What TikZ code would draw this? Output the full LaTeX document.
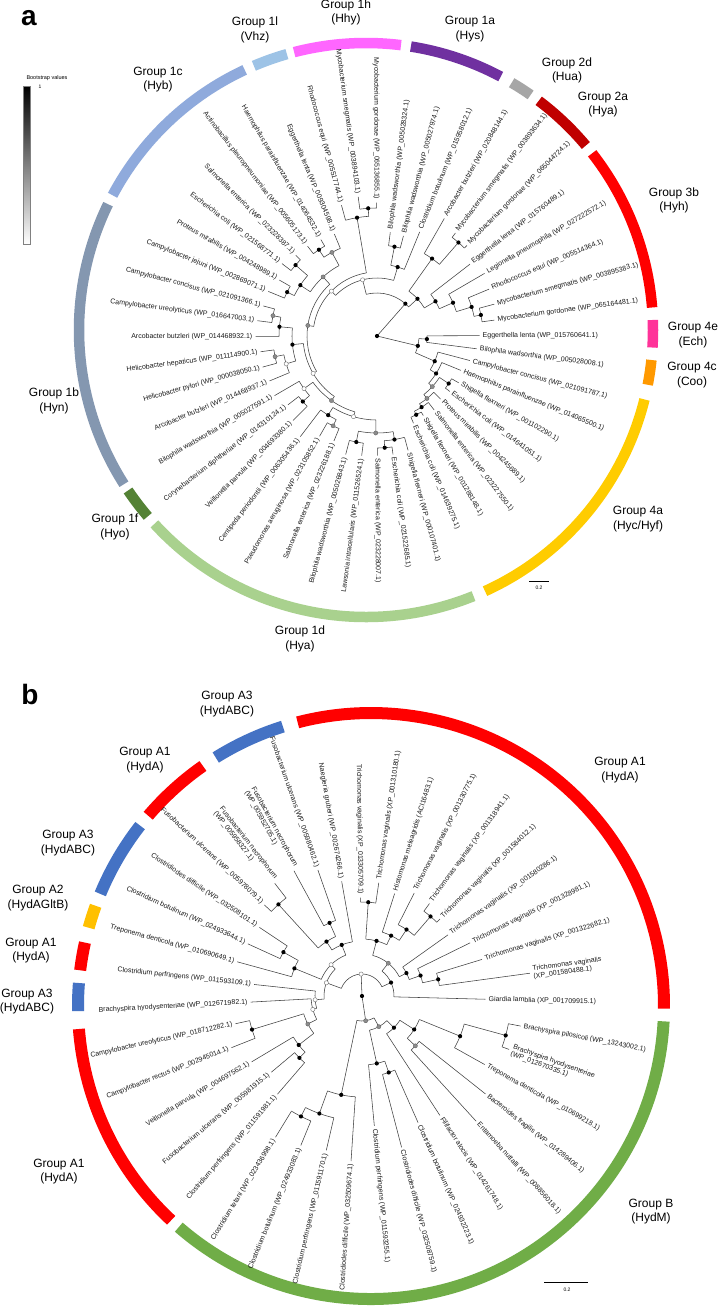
\documentclass[tikz,border=0pt]{standalone}
\usepackage{fontspec}
\setmainfont{Liberation Sans}
\definecolor{c1c}{HTML}{8FAADC}
\definecolor{c1l}{HTML}{9DC3E6}
\definecolor{c1h}{HTML}{FF66FF}
\definecolor{c1a}{HTML}{7030A0}
\definecolor{c2d}{HTML}{A6A6A6}
\definecolor{c2a}{HTML}{C00000}
\definecolor{c3b}{HTML}{FF0000}
\definecolor{c4e}{HTML}{FF3399}
\definecolor{c4c}{HTML}{FF9900}
\definecolor{c4a}{HTML}{FFCC00}
\definecolor{c1d}{HTML}{A9D18E}
\definecolor{c1f}{HTML}{548235}
\definecolor{c1b}{HTML}{8497B0}
\definecolor{cA1}{HTML}{FF0000}
\definecolor{cA3}{HTML}{4472C4}
\definecolor{cA2}{HTML}{FFC000}
\definecolor{cB}{HTML}{70AD47}
% tree helpers
\newcommand\TL[3]{%
  \pgfmathsetmacro\tA{\angf{#1}}%
  \pgfmathsetmacro\tR{#3-2.5}%
  \draw[tl] (\tA:#2pt) -- (\tA:\tR pt);}
\newcommand\TN[6]{%
  \pgfmathsetmacro\tA{\angf{#1}}%
  \pgfmathsetmacro\tS{\angf{#2}}%
  \pgfmathsetmacro\tE{\angf{#3}}%
  \draw[tl] (\tA:#4pt) -- (\tA:#5pt);%
  \draw[tl] (\tS:#5pt) arc[start angle=\tS, end angle=\tE, radius=#5pt];%
  \path[#6] (\tA:#5pt) circle[radius=2.1pt];}
\newcommand\TX[3]{%
  \pgfmathsetmacro\tA{mod(\angf{#1}+720,360)}%
  \pgfmathtruncatemacro\tLft{and(\tA>90,\tA<270)}%
  \ifnum\tLft=1
    \node[lab, anchor=east, rotate=\tA-180, name=\pfx#1] at (\tA:#2pt) {#3};%
  \else
    \node[lab, anchor=west, rotate=\tA, name=\pfx#1] at (\tA:#2pt) {#3};%
  \fi}
\newcommand\RA[4]{%
  \draw[line width=\rw, draw=#3] (#1:#4pt) arc[start angle=#1, end angle=#2, radius=#4pt];}
\begin{document}
\begin{tikzpicture}[x=1pt,y=1pt,
  tl/.style={line width=0.55pt, draw=black!75},
  lab/.style={font=\fontsize{7}{7.6}\selectfont, inner sep=0.5pt, align=left, text=black!90},
  grp/.style={font=\fontsize{12}{14.5}\selectfont, align=center, inner sep=0pt},
  bd/.style={fill=black},
  gd/.style={fill=black!45, draw=black!65, line width=0.3pt},
  wd/.style={fill=white, draw=black!55, line width=0.4pt}]
\fill[white] (0,0) rectangle (719,-1312);
\useasboundingbox (0,0) rectangle (719,-1312);

% ================= PANEL A =================
\node[font=\fontsize{28}{30}\selectfont\bfseries, inner sep=0] (pa) at (29,-18) {a};
% legend
\shade[top color=black, bottom color=white] (23,-86) rectangle (30,-244);
\draw[black!50, line width=0.4pt] (23,-86) rectangle (30,-244);
\node[font=\fontsize{5.5}{6}\selectfont, inner sep=0] (bsv) at (47,-78) {Bootstrap values};
\node[font=\fontsize{5}{6}\selectfont, inner sep=0] (bs1) at (40,-87) {1};

% ring
\def\rw{10.5pt}
\begin{scope}[shift={(366,-330)}]
\RA{115}{152}{c1c}{287}
\RA{106}{113}{c1l}{287}
\RA{83}{104.5}{c1h}{287}
\RA{62}{81}{c1a}{287}
\RA{55}{59.5}{c2d}{287}
\RA{40}{53}{c2a}{287}
\RA{4.5}{38}{c3b}{287}
\RA{-3.5}{2}{c4e}{287}
\RA{-11}{-6}{c4c}{287}
\RA{-65.5}{-14}{c4a}{287}
\RA{222.5}{292}{c1d}{287}
\RA{214}{220.5}{c1f}{287}
\RA{154}{212.5}{c1b}{287}
\end{scope}

% group labels a
\node[grp] (g1h) at (346,-12.5) {Group 1h\\(Hhy)};
\node[grp] (g1l) at (255,-30) {Group 1l\\(Vhz)};
\node[grp] (g1a) at (470,-29) {Group 1a\\(Hys)};
\node[grp] (g2d) at (567,-70.5) {Group 2d\\(Hua)};
\node[grp] (g2a) at (603,-104.5) {Group 2a\\(Hya)};
\node[grp] (g1c) at (158,-79.5) {Group 1c\\(Hyb)};
\node[grp] (g3b) at (674,-200.5) {Group 3b\\(Hyh)};
\node[grp] (g4e) at (693,-335) {Group 4e\\(Ech)};
\node[grp] (g4c) at (692,-375) {Group 4c\\(Coo)};
\node[grp] (g4a) at (638,-519) {Group 4a\\(Hyc/Hyf)};
\node[grp] (g1d) at (300,-639) {Group 1d\\(Hya)};
\node[grp] (g1f) at (115,-527) {Group 1f\\(Hyo)};
\node[grp] (g1b) at (54,-401) {Group 1b\\(Hyn)};

% scale bar a
\draw[line width=0.5pt] (529,-581) -- (549,-581);
\node[font=\fontsize{5}{6}\selectfont, inner sep=0] (sba) at (539,-588) {0.2};

% tree a
\def\angf#1{7.7+7.5*((#1)-1)}
\def\pfx{la}
\begin{scope}[shift={(377,-336)}]
\TN{6.47}{5.65625}{13.8926}{0}{43}{bd}
\TN{5.65625}{4.0625}{7.25}{43}{55}{bd}
\TN{4.0625}{3.125}{5}{55}{68}{bd}
\TN{3.125}{2.25}{4}{68}{83}{bd}
\TN{2.25}{1.5}{3}{83}{99}{bd}
\TN{1.5}{1}{2}{99}{106}{bd}
\TL{1}{106}{121} \TL{2}{106}{124} \TL{3}{99}{124} \TL{4}{83}{127} \TL{5}{68}{120}
\TN{7.25}{6.5}{8}{55}{95}{bd}
\TN{6.5}{6}{7}{95}{124}{bd}
\TL{6}{124}{130} \TL{7}{124}{132} \TL{8}{95}{138}
\TN{13.8926}{9.75}{18.035}{43}{58}{wd}
\TN{9.75}{9}{10.5}{58}{72}{bd}
\TL{9}{72}{115}
\TN{10.5}{10}{11}{72}{91}{bd}
\TL{10}{91}{106} \TL{11}{91}{107}
\TN{18.035}{13.25}{22.8203}{58}{64}{wd}
\TN{13.25}{12.5}{14}{64}{120}{bd}
\TN{12.5}{12}{13}{120}{128}{bd}
\TL{12}{128}{136} \TL{13}{128}{143} \TL{14}{120}{138}
\TN{22.8203}{17.625}{28.015625}{64}{70}{gd}
\TN{17.625}{15.75}{19.5}{70}{80}{gd}
\TN{15.75}{15}{16.5}{80}{95}{gd}
\TL{15}{95}{113}
\TN{16.5}{16}{17}{95}{104}{bd}
\TL{16}{104}{114} \TL{17}{104}{116}
\TN{19.5}{18.5}{20.5}{80}{92}{bd}
\TN{18.5}{18}{19}{92}{108}{bd}
\TL{18}{108}{117} \TL{19}{108}{122}
\TN{20.5}{20}{21}{92}{100}{bd}
\TL{20}{100}{115} \TL{21}{100}{120}
\TN{28.015625}{24.75}{31.28125}{70}{74}{wd}
\TN{24.75}{23.25}{26.25}{74}{85}{bd}
\TN{23.25}{22.5}{24}{85}{98}{bd}
\TN{22.5}{22}{23}{98}{106}{gd}
\TL{22}{106}{120} \TL{23}{106}{123} \TL{24}{98}{124}
\TN{26.25}{25.5}{27}{85}{95}{wd}
\TN{25.5}{25}{26}{95}{104}{gd}
\TL{25}{104}{120} \TL{26}{104}{121} \TL{27}{95}{119}
\TN{31.28125}{28.75}{33.8125}{74}{79}{gd}
\TN{28.75}{28}{29.5}{79}{90}{wd}
\TL{28}{90}{121}
\TN{29.5}{29}{30}{90}{99}{bd}
\TL{29}{99}{115} \TL{30}{99}{121.6}
\TN{33.8125}{31.75}{35.875}{79}{84}{wd}
\TN{31.75}{31}{32.5}{84}{93}{bd}
\TL{31}{93}{129}
\TN{32.5}{32}{33}{93}{100}{gd}
\TL{32}{100}{118} \TL{33}{100}{116}
\TN{35.875}{34.5}{37.25}{84}{97}{gd}
\TN{34.5}{34}{35}{97}{108}{bd}
\TL{34}{108}{125} \TL{35}{108}{123}
\TN{37.25}{36.5}{38}{97}{105}{bd}
\TN{36.5}{36}{37}{105}{112}{bd}
\TL{36}{112}{122} \TL{37}{112}{122} \TL{38}{105}{121}
\TN{46.164}{44.828}{47.5}{0}{42}{bd}
\TN{47.5}{47}{48}{42}{50}{bd}
\TL{47}{50}{103} \TL{48}{50}{105}
\TN{44.828}{43.65625}{46}{42}{63}{bd}
\TL{46}{63}{98.5}
\TN{43.65625}{42.3125}{45}{63}{70}{bd}
\TL{45}{70}{93}
\TN{42.3125}{41.125}{43.5}{70}{75}{gd}
\TN{43.5}{43}{44}{75}{86}{bd}
\TL{43}{86}{94} \TL{44}{86}{96.6}
\TN{41.125}{40.25}{42}{75}{80}{gd}
\TL{42}{80}{92}
\TN{40.25}{39.5}{41}{80}{84}{bd}
\TL{41}{84}{96}
\TN{39.5}{39}{40}{84}{88}{bd}
\TL{39}{88}{97} \TL{40}{88}{94.5}
\fill[black] (0,0) circle[radius=2.1pt];
% labels a
\TX{1}{121}{Mycobacterium gordonae (WP\_065164481.1)}
\TX{2}{124}{Mycobacterium smegmatis (WP\_003895383.1)}
\TX{3}{124}{Rhodococcus equi (WP\_005514364.1)}
\TX{4}{127}{Legionella pneumophila (WP\_027222572.1)}
\TX{5}{120}{Eggerthella lenta (WP\_015760489.1)}
\TX{6}{130}{Mycobacterium gordonae (WP\_065044724.1)}
\TX{7}{132}{Mycobacterium smegmatis (WP\_003893634.1)}
\TX{8}{138}{Arcobacter butzleri (WP\_020848144.1)}
\TX{9}{115}{Clostridium botulinum (WP\_015958012.1)}
\TX{10}{106}{Bilophila wadsworthia (WP\_005027974.1)}
\TX{11}{107}{Bilophila wadsworthia (WP\_005028324.1)}
\TX{12}{136}{Mycobacterium gordonae (WP\_065136855.1)}
\TX{13}{143}{Mycobacterium smegmatis (WP\_003894103.1)}
\TX{14}{138}{Rhodococcus equi (WP\_005517744.1)}
\TX{15}{113}{Eggerthella lenta (WP\_009304598.1)}
\TX{16}{114}{Haemophilus parainfluenzae (WP\_014064532.1)}
\TX{17}{116}{Actinobacillus pleuropneumoniae (WP\_005605173.1)}
\TX{18}{117}{Salmonella enterica (WP\_023228387.1)}
\TX{19}{122}{Escherichia coli (WP\_021568771.1)}
\TX{20}{115}{Proteus mirabilis (WP\_004248989.1)}
\TX{21}{120}{Campylobacter jejuni (WP\_002869071.1)}
\TX{22}{120}{Campylobacter concisus (WP\_021091366.1)}
\TX{23}{123}{Campylobacter ureolyticus (WP\_016647003.1)}
\TX{24}{124}{Arcobacter butzleri (WP\_014468932.1)}
\TX{25}{120}{Helicobacter hepaticus (WP\_011114900.1)}
\TX{26}{121}{Helicobacter pylori (WP\_000038050.1)}
\TX{27}{119}{Arcobacter butzleri (WP\_014468937.1)}
\TX{28}{121}{Bilophila wadsworthia (WP\_005027591.1)}
\TX{29}{115}{Corynebacterium diphtheriae (WP\_014310124.1)}
\TX{30}{121.6}{Veillonella parvula (WP\_004693380.1)}
\TX{31}{129}{Centipeda periodontii (WP\_006305436.1)}
\TX{32}{118}{Pseudomonas aeruginosa (WP\_023105852.1)}
\TX{33}{116}{Salmonella enterica (WP\_023226188.1)}
\TX{34}{125}{Bilophila wadsworthia (WP\_005026843.1)}
\TX{35}{123}{Lawsonia intracellularis (WP\_011526524.1)}
\TX{36}{122}{Salmonella enterica (WP\_023228007.1)}
\TX{37}{122}{Escherichia coli (WP\_021522685.1)}
\TX{38}{121}{Shigella flexneri (WP\_000107401.1)}
\TX{39}{97}{Escherichia coli (WP\_014639275.1)}
\TX{40}{94.5}{Shigella flexneri (WP\_001288148.1)}
\TX{41}{96}{Salmonella enterica (WP\_023227550.1)}
\TX{42}{92}{Proteus mirabilis (WP\_004245689.1)}
\TX{43}{94}{Escherichia coli (WP\_014641051.1)}
\TX{44}{96.6}{Shigella flexneri (WP\_001102290.1)}
\TX{45}{93}{Haemophilus parainfluenzae (WP\_014065500.1)}
\TX{46}{98.5}{Campylobacter concisus (WP\_021091787.1)}
\TX{47}{103}{Bilophila wadsorthia (WP\_005028008.1)}
\TX{48}{105}{Eggerthella lenta (WP\_015760641.1)}
\end{scope}

% ================= PANEL B =================
\node[font=\fontsize{28}{30}\selectfont\bfseries, inner sep=0] (pb) at (30,-694) {b};
\def\rw{12pt}
\begin{scope}[shift={(371,-1006)}]
\RA{107.5}{122}{cA3}{293}
\RA{125}{139.5}{cA1}{293}
\RA{142}{157.5}{cA3}{293}
\RA{160}{164.5}{cA2}{293}
\RA{167.5}{173}{cA1}{293}
\RA{175.5}{181}{cA3}{293}
\RA{184.5}{227}{cA1}{293}
\RA{229}{357}{cB}{293}
\RA{-0.5}{104.5}{cA1}{293}
\end{scope}
\node[grp] (gA3a) at (227,-704) {Group A3\\(HydABC)};
\node[grp] (gA1a) at (145,-760) {Group A1\\(HydA)};
\node[grp] (gA3b) at (68,-843) {Group A3\\(HydABC)};
\node[grp] (gA2) at (38,-898) {Group A2\\(HydAGltB)};
\node[grp] (gA1b) at (31,-950.5) {Group A1\\(HydA)};
\node[grp] (gA3c) at (27,-1001.5) {Group A3\\(HydABC)};
\node[grp] (gA1c) at (620,-770) {Group A1\\(HydA)};
\node[grp] (gA1d) at (59,-1171.5) {Group A1\\(HydA)};
\node[grp] (gB) at (651,-1211.5) {Group B\\(HydM)};
\draw[line width=0.5pt] (544,-1282) -- (588,-1282);
\node[font=\fontsize{5}{6}\selectfont, inner sep=0] (sbb) at (567,-1290) {0.2};

\def\angf#1{-1.5-9.23*(#1)}
\def\pfx{lb}
\begin{scope}[shift={(362,-996)}]
\TN{28.84375}{21.546875}{36.140625}{0}{22}{wd}
\TN{21.546875}{18.84375}{24.25}{22}{38}{wd}
\TN{18.84375}{17.6875}{20}{38}{47}{wd}
\TL{20}{47}{111}
\TN{17.6875}{16.375}{19}{47}{51}{wd}
\TL{19}{51}{114}
\TN{16.375}{15.25}{17.5}{51}{61}{gd}
\TN{15.25}{14.5}{16}{61}{80}{bd}
\TL{16}{80}{131}
\TN{14.5}{14}{15}{80}{88}{bd}
\TL{14}{88}{132} \TL{15}{88}{121}
\TN{17.5}{17}{18}{61}{115}{bd}
\TL{17}{115}{143} \TL{18}{115}{132}
\TN{24.25}{21.75}{26.75}{38}{44}{wd}
\TN{21.75}{21}{22.5}{44}{73}{bd}
\TL{21}{73}{132}
\TN{22.5}{22}{23}{73}{90}{bd}
\TL{22}{90}{128} \TL{23}{90}{126}
\TN{26.75}{25.5}{28}{44}{55}{bd}
\TL{28}{55}{119}
\TN{25.5}{24.5}{26.5}{55}{65}{bd}
\TN{24.5}{24}{25}{65}{124}{bd}
\TL{24}{124}{136} \TL{25}{124}{145}
\TN{26.5}{26}{27}{65}{80}{bd}
\TL{26}{80}{145} \TL{27}{80}{136}
\TN{-2.859375}{-5.71875}{0}{22}{32}{bd}
\TL{0}{32}{126}
\TN{-5.71875}{-8.3125}{-3.125}{32}{42}{gd}
\TN{-8.3125}{-9.5}{-7.125}{42}{57}{bd}
\TN{-9.5}{-10}{-9}{57}{94}{bd}
\TL{-10}{94}{101} \TL{-9}{94}{117}
\TN{-7.125}{-8}{-6.25}{57}{67}{bd}
\TL{-8}{67}{110}
\TN{-6.25}{-7}{-5.5}{67}{80}{bd}
\TL{-7}{80}{118}
\TN{-5.5}{-6}{-5}{80}{105}{bd}
\TL{-6}{105}{117} \TL{-5}{105}{112}
\TN{-3.125}{-4}{-2.25}{42}{50}{bd}
\TL{-4}{50}{108}
\TN{-2.25}{-3}{-1.5}{50}{62}{bd}
\TL{-3}{62}{123}
\TN{-1.5}{-2}{-1}{62}{78}{bd}
\TL{-2}{78}{128} \TL{-1}{78}{172}
\TN{8.671875}{6.46875}{10.875}{0}{25}{gd}
\TN{6.46875}{4.6875}{8.25}{25}{35}{gd}
\TN{4.6875}{3.375}{6}{35}{45}{bd}
\TL{6}{45}{145}
\TN{3.375}{2.25}{4.5}{45}{62}{bd}
\TN{2.25}{1.5}{3}{62}{106}{bd}
\TL{3}{106}{143}
\TN{1.5}{1}{2}{106}{149}{bd}
\TL{1}{149}{164} \TL{2}{149}{159}
\TN{4.5}{4}{5}{62}{73}{gd}
\TL{4}{73}{160} \TL{5}{73}{172}
\TN{8.25}{7.5}{9}{35}{69}{bd}
\TL{9}{69}{133}
\TN{7.5}{7}{8}{69}{81}{bd}
\TL{7}{81}{141} \TL{8}{81}{159}
\TN{10.875}{10}{11.75}{25}{101}{bd}
\TL{10}{101}{168}
\TN{11.75}{11}{12.5}{101}{125}{bd}
\TL{11}{125}{161}
\TN{12.5}{12}{13}{125}{135}{bd}
\TL{12}{135}{164} \TL{13}{135}{168}
\fill[black] (0,0) circle[radius=2.1pt];
% labels b
\TX{0}{126}{Giardia lamblia (XP\_001709915.1)}
\TX{1}{164}{Brachyspira pilosicoli (WP\_13243002.1)}
\TX{2}{159}{Brachyspira hyodysenteriae\\(WP\_012670335.1)}
\TX{3}{143}{Treponema denticola (WP\_010699218.1)}
\TX{4}{160}{Bacteroides fragilis (WP\_014289406.1)}
\TX{5}{172}{Entamoeba nuttalli (WP\_008856018.1)}
\TX{6}{145}{Filifactor alocis (WP\_014261748.1)}
\TX{7}{141}{Clostridium botulinum (WP\_024932223.1)}
\TX{8}{159}{Clostridiodes difficile (WP\_032508759.1)}
\TX{9}{133}{Clostridium perfringens (WP\_011593255.1)}
\TX{10}{168}{Clostridiodes difficile (WP\_032509674.1)}
\TX{11}{161}{Clostridium perfringens (WP\_011591170.1)}
\TX{12}{164}{Clostridium botulinum (WP\_024933083.1)}
\TX{13}{168}{Clostridium tetani (WP\_023436998.1)}
\TX{14}{132}{Clostridium perfringens (WP\_011591981.1)}
\TX{15}{121}{Fusobacterium ulcerans (WP\_005981915.1)}
\TX{16}{131}{Veillonella parvula (WP\_004697562.1)}
\TX{17}{143}{Campylobacter rectus (WP\_002945014.1)}
\TX{18}{132}{Campylobacter ureolyticus (WP\_018712282.1)}
\TX{19}{114}{Brachyspira hyodysenteriae (WP\_012671982.1)}
\TX{20}{111}{Clostridium perfringens (WP\_011593109.1)}
\TX{21}{132}{Treponema denticola (WP\_010690649.1)}
\TX{22}{128}{Clostridium botulinum (WP\_024933644.1)}
\TX{23}{126}{Clostridiodes difficile (WP\_032508101.1)}
\TX{24}{136}{Fusobacterium ulcerans (WP\_005978079.1)}
\TX{25}{145}{Fusobacterium necrophorum\\(WP\_005958327.1)}
\TX{26}{145}{Fusobacterium necrophorum\\(WP\_005952705.1)}
\TX{27}{136}{Fusobacterium ulcerans (WP\_005980462.1)}
\TX{28}{119}{Naegleria gruberi (WP\_002674266.1)}
\TX{-10}{101}{Trichomonas vaginalis (XP\_013305709.1)}
\TX{-9}{117}{Trichomonas vaginalis (XP\_001310180.1)}
\TX{-8}{110}{Histomonas meleagridis (ACI16483.1)}
\TX{-7}{118}{Trichomonas vaginalis (XP\_001330775.1)}
\TX{-6}{117}{Trichomonas vaginalis (XP\_001318941.1)}
\TX{-5}{112}{Trichomonas vaginalis (XP\_001584012.1)}
\TX{-4}{108}{Trichomonas vaginalis (XP\_001580286.1)}
\TX{-3}{123}{Trichomonas vaginalis (XP\_001328981.1)}
\TX{-2}{128}{Trichomonas vaginalis (XP\_001322682.1)}
\TX{-1}{172}{Trichomonas vaginalis\\(XP\_001580488.1)}
\end{scope}
\end{tikzpicture}
\end{document}
